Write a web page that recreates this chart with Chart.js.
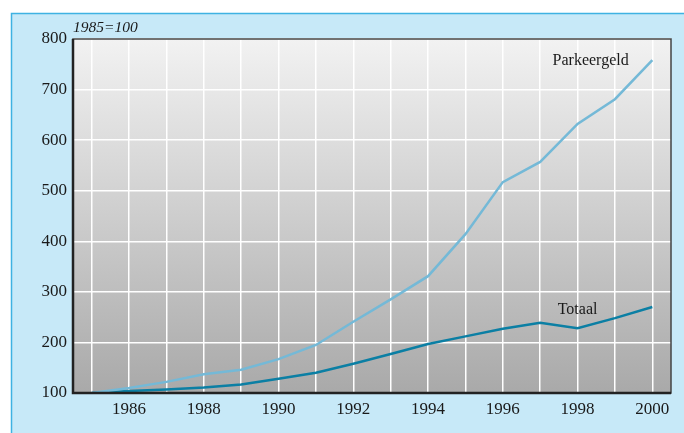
<!DOCTYPE html>
<html>
<head>
<meta charset="utf-8">
<script src="https://cdn.jsdelivr.net/npm/chart.js@4"></script>
<style>
  html, body { margin: 0; padding: 0; background: #fff; }
  #wrap { width: 684px; height: 433px; }
</style>
</head>
<body>
<div id="wrap"><canvas id="chart"></canvas></div>
<script>
// index, 1985=100
const years = [1985,1986,1987,1988,1989,1990,1991,1992,1993,1994,1995,1996,1997,1998,1999,2000];
const parkeergeld = [100,110,122,137,146,167,195,241,285,331,414,517,557,632,681,758];
const totaal = [100,104,107,111,117,128,140,158,177,197,212,227,239,228,248,270];
const y_ticks = [100,200,300,400,500,600,700,800];

const serif = '"Liberation Serif", "DejaVu Serif", serif';

// frame, grey plot background, axis borders and the two series names
const decor = {
    id: 'decor',
    beforeDraw(chart) {
        const ctx = chart.ctx;
        const a = chart.chartArea;
        ctx.save();
        ctx.fillStyle = '#ffffff';
        ctx.fillRect(0, 0, chart.width, chart.height);
        ctx.fillStyle = '#c7e9f8';
        ctx.fillRect(11, 13, chart.width - 11, chart.height - 13);
        ctx.strokeStyle = '#3fb2e2';
        ctx.lineWidth = 1.5;
        ctx.beginPath();
        ctx.moveTo(11.5, chart.height);
        ctx.lineTo(11.5, 13.5);
        ctx.lineTo(chart.width, 13.5);
        ctx.stroke();
        const g = ctx.createLinearGradient(0, a.top, 0, a.bottom);
        g.addColorStop(0, '#f2f2f2');
        g.addColorStop(1, '#a9a9a9');
        ctx.fillStyle = g;
        ctx.fillRect(a.left, a.top, a.right - a.left, a.bottom - a.top);
        ctx.restore();
    },
    afterDraw(chart) {
        const ctx = chart.ctx;
        const a = chart.chartArea;
        const xs = chart.scales.x, ys = chart.scales.y;
        ctx.save();
        ctx.strokeStyle = '#444';
        ctx.lineWidth = 1.5;
        ctx.strokeRect(a.left, a.top, a.right - a.left, a.bottom - a.top);
        ctx.strokeStyle = '#222';
        ctx.lineWidth = 2.5;
        ctx.beginPath();
        ctx.moveTo(a.left, a.top);
        ctx.lineTo(a.left, a.bottom);
        ctx.lineTo(a.right, a.bottom);
        ctx.stroke();

        ctx.fillStyle = '#1a1a1a';
        ctx.font = 'italic 15.5px ' + serif;
        ctx.textAlign = 'left';
        ctx.textBaseline = 'alphabetic';
        ctx.fillText('1985=100', a.left, a.top - 7);

        ctx.font = '16px ' + serif;
        ctx.textAlign = 'center';
        ctx.fillText('Parkeergeld', xs.getPixelForValue(1998.35), 65);
        ctx.fillText('Totaal', xs.getPixelForValue(1998.0), ys.getPixelForValue(270) + 7);
        ctx.restore();
    }
};

const chart_config = {
    type: 'line',
    data: {
        labels: years,
        datasets: [
            {
                label: 'Parkeergeld',
                data: years.map((y, i) => ({x: y, y: parkeergeld[i]})),
                borderColor: '#74b9d7',
                borderWidth: 2.5,
                pointRadius: 0,
                tension: 0
            },
            {
                label: 'Totaal',
                data: years.map((y, i) => ({x: y, y: totaal[i]})),
                borderColor: '#0b7fa4',
                borderWidth: 2.5,
                pointRadius: 0,
                tension: 0
            }
        ]
    },
    options: {
        responsive: true,
        maintainAspectRatio: false,
        animation: false,
        layout: {padding: {top: 39, right: 13, left: 0, bottom: 0}},
        plugins: {legend: {display: false}, tooltip: {enabled: false}},
        scales: {
            x: {
                type: 'linear',
                min: 1984.5,
                max: 2000.5,
                afterBuildTicks: s => { s.ticks = years.map(v => ({value: v})); },
                afterFit: s => { s.height = 40; },
                border: {display: false},
                grid: {color: '#ffffff', lineWidth: 1.5, drawTicks: false},
                ticks: {
                    autoSkip: false,
                    maxRotation: 0,
                    padding: 6,
                    color: '#1a1a1a',
                    font: {family: serif, size: 17},
                    callback: v => (v % 2 === 0 ? String(v) : '')
                }
            },
            y: {
                min: 100,
                max: 800,
                afterBuildTicks: s => { s.ticks = y_ticks.map(v => ({value: v})); },
                afterFit: s => { s.width = 73; },
                border: {display: false},
                grid: {color: '#ffffff', lineWidth: 1.5, drawTicks: false},
                ticks: {
                    padding: 6,
                    color: '#1a1a1a',
                    font: {family: serif, size: 17}
                }
            }
        }
    },
    plugins: [decor]
};

const chart_canvas = document.getElementById('chart');
const main_chart = new Chart(chart_canvas, chart_config);
</script>
</body>
</html>
